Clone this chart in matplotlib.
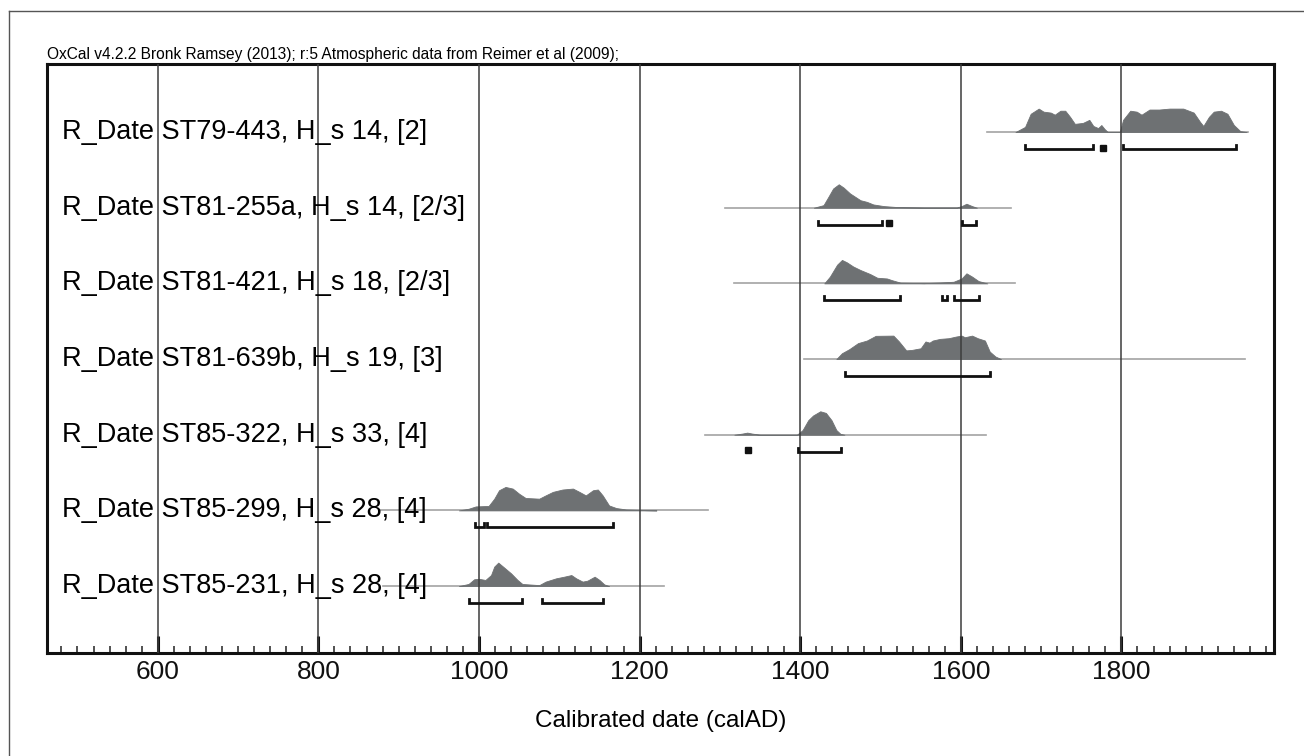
import matplotlib
matplotlib.use("Agg")
import matplotlib.pyplot as plt
from matplotlib.lines import Line2D

plt.rcParams['font.family'] = ['Liberation Sans', 'DejaVu Sans']

# --- data ---
labels = [
    "R_Date ST79-443, H_s 14, [2]",
    "R_Date ST81-255a, H_s 14, [2/3]",
    "R_Date ST81-421, H_s 18, [2/3]",
    "R_Date ST81-639b, H_s 19, [3]",
    "R_Date ST85-322, H_s 33, [4]",
    "R_Date ST85-299, H_s 28, [4]",
    "R_Date ST85-231, H_s 28, [4]",
]

# relative probability (peak = 1) per calendar year
yrs1 = [1668, 1680, 1687, 1697, 1703, 1712, 1717, 1724, 1730, 1736, 1742, 1752, 1760,
        1765, 1771, 1775, 1779, 1783, 1798, 1802, 1811, 1819, 1825, 1835, 1847, 1860,
        1877, 1890, 1898, 1902, 1909, 1915, 1924, 1932, 1940, 1948, 1956]
dens1 = [0, 0.22, 0.78, 1.0, 0.87, 0.83, 0.74, 0.91, 0.91, 0.65, 0.35, 0.39, 0.52,
         0.26, 0.17, 0.3, 0.13, 0, 0, 0.52, 0.91, 0.87, 0.74, 0.96, 0.96, 1.0,
         1.0, 0.83, 0.43, 0.26, 0.65, 0.87, 0.91, 0.78, 0.3, 0.04, 0]

yrs2 = [1417, 1429, 1435, 1441, 1448, 1454, 1462, 1475, 1483, 1491, 1504, 1520, 1554,
        1595, 1601, 1607, 1614, 1620]
dens2 = [0, 0.11, 0.46, 0.82, 1.0, 0.86, 0.61, 0.32, 0.25, 0.14, 0.07, 0.03, 0.01,
         0.01, 0.07, 0.17, 0.07, 0]

yrs3 = [1430, 1437, 1446, 1452, 1458, 1466, 1475, 1487, 1496, 1508, 1514, 1525, 1554,
        1575, 1591, 1601, 1607, 1614, 1622, 1633]
dens3 = [0, 0.29, 0.8, 1.0, 0.9, 0.72, 0.57, 0.4, 0.24, 0.21, 0.14, 0.03, 0.01,
         0.04, 0.07, 0.21, 0.43, 0.29, 0.1, 0]

yrs4 = [1445, 1452, 1461, 1472, 1483, 1494, 1516, 1523, 1532, 1539, 1550, 1556, 1561,
        1565, 1574, 1585, 1594, 1601, 1605, 1614, 1621, 1630, 1636, 1643, 1650]
dens4 = [0, 0.25, 0.42, 0.68, 0.79, 0.99, 1.0, 0.75, 0.37, 0.39, 0.46, 0.75, 0.7,
         0.79, 0.86, 0.89, 0.96, 1.0, 0.93, 1.0, 0.89, 0.79, 0.32, 0.11, 0]

yrs5 = [1318, 1328, 1334, 1340, 1350, 1396, 1403, 1410, 1416, 1425, 1432, 1439, 1445,
        1450, 1455]
dens5 = [0, 0.05, 0.09, 0.05, 0, 0, 0.2, 0.62, 0.82, 1.0, 0.93, 0.62, 0.2, 0.04, 0]

yrs6 = [975, 987, 996, 1012, 1019, 1025, 1033, 1042, 1050, 1058, 1075, 1083, 1092,
        1104, 1117, 1125, 1133, 1142, 1148, 1154, 1162, 1171, 1183, 1208, 1221]
dens6 = [0, 0.07, 0.17, 0.19, 0.5, 0.86, 1.0, 0.93, 0.71, 0.53, 0.5, 0.64, 0.79,
         0.89, 0.93, 0.79, 0.64, 0.86, 0.89, 0.64, 0.21, 0.1, 0.04, 0.01, 0]

yrs7 = [975, 987, 994, 1000, 1008, 1015, 1019, 1024, 1031, 1040, 1048, 1054, 1075,
        1083, 1096, 1106, 1115, 1121, 1129, 1135, 1144, 1150, 1156, 1162]
dens7 = [0, 0.09, 0.29, 0.31, 0.26, 0.47, 0.83, 1.0, 0.8, 0.54, 0.26, 0.09, 0.04,
         0.19, 0.33, 0.4, 0.47, 0.33, 0.19, 0.23, 0.4, 0.26, 0.07, 0]

# calibration span drawn as thin line under each distribution
spans = [(1633, 1957), (1306, 1662), (1317, 1667), (1405, 1954),
         (1281, 1631), (877, 1285), (880, 1231)]

# 95.4% ranges
ranges1 = [(1680, 1765), (1775, 1779), (1802, 1943)]
ranges2 = [(1422, 1502), (1509, 1513), (1601, 1619)]
ranges3 = [(1430, 1524), (1577, 1583), (1591, 1623)]
ranges4 = [(1456, 1636)]
ranges5 = [(1333, 1337), (1397, 1451)]
ranges6 = [(995, 1006), (1010, 1167)]
ranges7 = [(988, 1054), (1079, 1154)]

years = [yrs1, yrs2, yrs3, yrs4, yrs5, yrs6, yrs7]
dens = [dens1, dens2, dens3, dens4, dens5, dens6, dens7]
ranges = [ranges1, ranges2, ranges3, ranges4, ranges5, ranges6, ranges7]

grid_years = [600, 800, 1000, 1200, 1400, 1600, 1800]

PEAK = 0.31      # height of a peak in row units
BR_OFF = 0.225   # bracket offset below the baseline
BR_TICK = 0.055  # upturned bracket ends

fig = plt.figure(figsize=(13.04, 7.56), dpi=100)
ax = fig.add_axes([0.036, 0.1362, 0.941, 0.7791])

for i in range(len(labels)):
    row = i + 1
    ax.plot(spans[i], [row, row], color='#a3a3a3', lw=1.2, zorder=2)
    base = [row] * len(years[i])
    top = [row - d * PEAK for d in dens[i]]
    ax.fill_between(years[i], base, top, color='#6e7173', lw=0.6,
                    edgecolor='#6e7173', zorder=3)
    yb = row + BR_OFF
    for a, b in ranges[i]:
        if b - a < 5:
            # very short range shows up as a dot
            ax.plot([(a + b) / 2], [yb - 0.02], marker='s', ms=4.2,
                    color='#111111', zorder=5)
        else:
            ax.plot([a, a, b, b], [yb - BR_TICK, yb, yb, yb - BR_TICK],
                    color='#111111', lw=2.0, solid_joinstyle='miter', zorder=5)
    ax.text(0.0122, row, labels[i], transform=ax.get_yaxis_transform(),
            fontsize=19.5, ha='left', va='center', zorder=6)

for g in grid_years:
    ax.axvline(g, color='#3c3c3c', lw=1.1, zorder=4)

ax.set_xlim(462, 1990)
ax.set_ylim(7.885, 0.101)
ax.set_yticks([])
ax.set_xticks(grid_years)
ax.set_xticks(range(480, 1990, 20), minor=True)
ax.tick_params(axis='x', which='major', direction='in', length=12, width=2.2,
               labelsize=19, pad=5, colors='#111111')
ax.tick_params(axis='x', which='minor', direction='in', length=5, width=1.2,
               colors='#333333')
for s in ax.spines.values():
    s.set_linewidth(2.2)
    s.set_color('#111111')

ax.set_xlabel("Calibrated date (calAD)", fontsize=17.5, labelpad=19)

fig.text(0.036, 0.918, "OxCal v4.2.2 Bronk Ramsey (2013); r:5 Atmospheric data from "
         "Reimer et al (2009);", fontsize=11.2, ha='left', va='bottom')

# thin outer frame on the left and top of the page
fig.add_artist(Line2D([0.007, 0.007], [0, 0.986], color='#555555', lw=1.0))
fig.add_artist(Line2D([0.007, 1.0], [0.986, 0.986], color='#555555', lw=1.0))

fig.savefig("out.png", dpi=100)
